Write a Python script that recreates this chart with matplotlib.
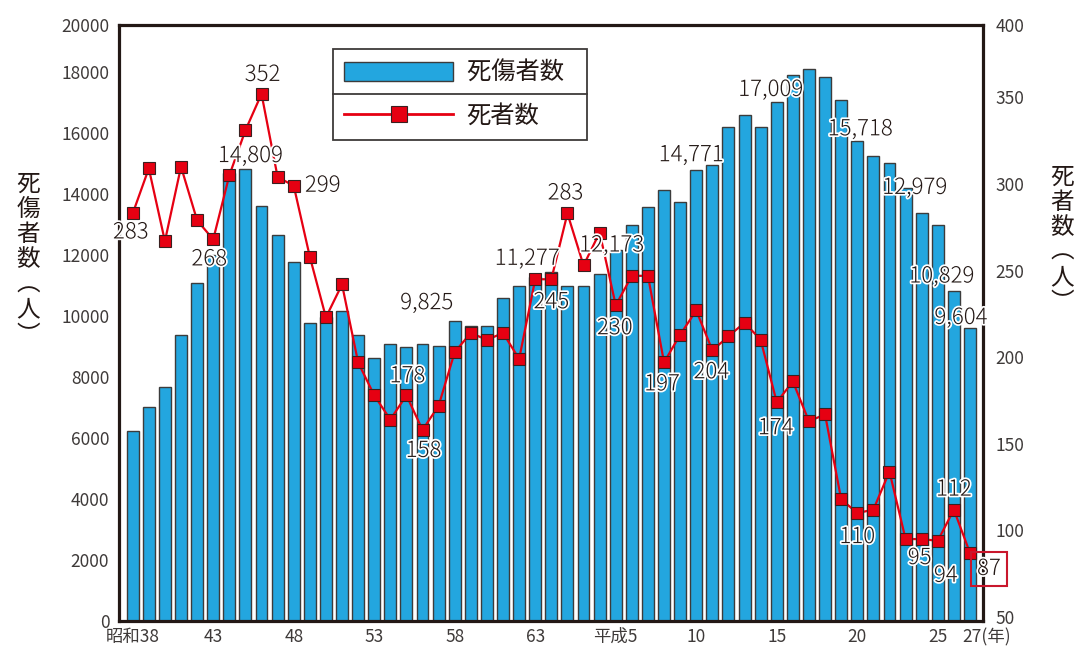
import numpy as np
import matplotlib
matplotlib.use("Agg")
import matplotlib.pyplot as plt
import matplotlib.patheffects as pe
import matplotlib.transforms as mtrans
from matplotlib.patches import Patch
from matplotlib.lines import Line2D

plt.rcParams['font.family'] = ['Noto Sans CJK JP', 'DejaVu Sans']

# 昭和38年(1963) - 平成27年(2015)
casualties = [6236, 7023, 7678, 9372, 11086, 12000, 14671, 14809, 13610, 12650,
              11775, 9776, 9950, 10159, 9372, 8629, 9077, 8968, 9077, 9012,
              9825, 9677, 9677, 10595, 10988, 11277, 11447, 10988, 10988, 11371,
              12173, 12987, 13557, 14124, 13741, 14771, 14943, 16198, 16582, 16198,
              17009, 17892, 18079, 17817, 17073, 15718, 15238, 14998, 14179, 13381,
              12979, 10829, 9604]
deaths = [283, 309, 267, 310, 279, 268, 305, 331, 352, 304,
          299, 258, 223, 242, 197, 178, 164, 178, 158, 172,
          203, 214, 210, 214, 199, 245, 245, 283, 253, 272,
          230, 247, 247, 197, 213, 227, 204, 212, 220, 210,
          174, 186, 163, 167, 118, 110, 112, 134, 95, 95,
          94, 112, 87]
tick_pos = [0, 5, 10, 15, 20, 25, 30, 35, 40, 45, 50, 52]
tick_labels = ['昭和38', '43', '48', '53', '58', '63', '平成5', '10', '15', '20', '25', '27(年)']

# labelled values: index -> (text, dx px, dy px)
bar_notes = {7: ('14,809', 5, 13), 20: ('9,825', -28, 18), 25: ('11,277', -8, 18),
             30: ('12,173', -4, 4), 35: ('14,771', -5, 15), 40: ('17,009', -6, 12),
             45: ('15,718', 3, 12), 50: ('12,979', -23, 37), 51: ('10,829', -12, 14),
             52: ('9,604', -9, 10)}
death_notes = {0: ('283', -2, -19), 5: ('268', -4, -20), 8: ('352', 1, 19),
               10: ('299', 29, 0), 17: ('178', 1, 19), 18: ('158', 1, -21),
               26: ('245', 0, -23), 27: ('283', -2, 20), 30: ('230', -1, -23),
               33: ('197', -2, -22), 36: ('204', -1, -22), 40: ('174', -1, -26),
               45: ('110', 0, -24), 49: ('95', -2, -19), 50: ('94', 8, -35),
               51: ('112', 0, 20), 52: ('87', 19, -16)}

BLUE = '#23a6df'
RED = '#e60012'
DARK = '#231815'

x = np.arange(len(casualties))

fig = plt.figure(figsize=(10.88, 6.46), dpi=100)
ax = fig.add_axes([0.1094, 0.0387, 0.7941, 0.9226])
ax2 = ax.twinx()

ax.bar(x, casualties, width=0.74, color=BLUE, edgecolor='#3c3c3c', linewidth=1.0, zorder=2)
ax2.plot(x, deaths, color=RED, linewidth=1.6, marker='s', markersize=8.8,
         markerfacecolor=RED, markeredgecolor='#3a2020', markeredgewidth=0.8, zorder=3)

ax.set_xlim(-0.85, 52.81)
ytop_l = 19530
ax.set_ylim(0, ytop_l)
ax.set_yticks(list(range(0, 18001, 2000)) + [ytop_l])
ax.set_yticklabels([str(v) for v in range(0, 18001, 2000)] + ['20000'])
ytop_r = 391.8
ax2.set_ylim(47.7, ytop_r)
ax2.set_yticks(list(range(50, 351, 50)) + [ytop_r])
ax2.set_yticklabels([str(v) for v in range(50, 351, 50)] + ['400'])

ax.set_xticks(tick_pos)
ax.set_xticklabels(tick_labels)
ax.tick_params(axis='both', length=0, labelsize=12.5, colors='#3e3a39')
ax.tick_params(axis='y', pad=7)
ax.tick_params(axis='x', pad=5)
ax2.tick_params(axis='y', length=0, labelsize=12.5, colors='#3e3a39', pad=9)

last = ax.get_xticklabels()[-1]
last.set_ha('left')
last.set_transform(last.get_transform() + mtrans.ScaledTranslation(-8 / 100, 0, fig.dpi_scale_trans))

for s in ax.spines.values():
    s.set_linewidth(2.3)
    s.set_color(DARK)
for s in ax2.spines.values():
    s.set_visible(False)

halo = [pe.withStroke(linewidth=2.5, foreground='white')]
for i, (t, dx, dy) in bar_notes.items():
    ax2.annotate(t, xy=(i, casualties[i]), xycoords=ax.transData, xytext=(dx, dy),
                 textcoords='offset pixels', ha='center', va='center', fontsize=16,
                 fontweight='light', color=DARK, path_effects=halo, zorder=5)
for i, (t, dx, dy) in death_notes.items():
    kw = {}
    if t == '87':
        kw['bbox'] = dict(boxstyle='square,pad=0.28', facecolor='none', edgecolor='#c9172c', linewidth=1.5)
    ax2.annotate(t, xy=(i, deaths[i]), xytext=(dx, dy), textcoords='offset pixels',
                 ha='center', va='center', fontsize=16, fontweight='light', color=DARK,
                 path_effects=halo, zorder=5, **kw)

# legend
h1 = Patch(facecolor=BLUE, edgecolor='#3c3c3c', linewidth=1.0)
h2 = Line2D([], [], color=RED, linewidth=2, marker='s', markersize=12,
            markerfacecolor=RED, markeredgecolor='#3a2020', markeredgewidth=0.8)
leg = ax2.legend([h1, h2], ['死傷者数\u2002', '死者数'], loc='upper left',
                 bbox_to_anchor=(0.2477, 0.9597), borderaxespad=0, fontsize=17.5,
                 frameon=True, fancybox=False, edgecolor='#3e3a39', framealpha=1,
                 handlelength=4.5, handleheight=0.8, handletextpad=0.55,
                 labelspacing=0.7, borderpad=0.45, numpoints=1)
leg.get_frame().set_linewidth(1.3)
for t in leg.get_texts():
    t.set_color(DARK)

fig.canvas.draw()
bb = leg.get_window_extent()
W, H = fig.bbox.width, fig.bbox.height
ym = (bb.y0 + bb.y1) / 2 / H
fig.add_artist(Line2D([bb.x0 / W, bb.x1 / W], [ym, ym], color='#3e3a39', linewidth=1.3))

fig.text(28 / 1088, 1 - 260 / 646, '\n'.join('死傷者数︵人︶'), ha='center', va='center',
         fontsize=17, linespacing=1.12, color=DARK)
fig.text(1062 / 1088, 1 - 240 / 646, '\n'.join('死者数︵人︶'), ha='center', va='center',
         fontsize=17, linespacing=1.12, color=DARK)

fig.savefig('out.png', dpi=100)
